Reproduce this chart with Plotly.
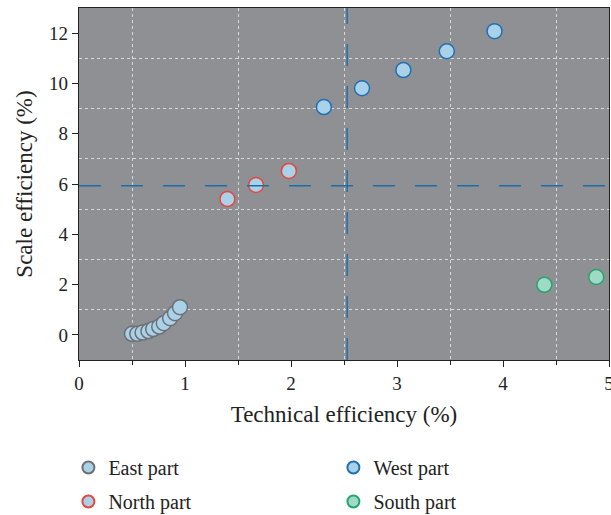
import plotly.graph_objects as go

east_x = [0.50, 0.55, 0.60, 0.655, 0.70, 0.757, 0.80, 0.86, 0.906, 0.953]
east_y = [0.04, 0.04, 0.09, 0.15, 0.23, 0.33, 0.46, 0.66, 0.86, 1.10]
north_x = [1.40, 1.67, 1.98]
north_y = [5.40, 5.96, 6.52]
west_x = [2.31, 2.67, 3.06, 3.47, 3.92]
west_y = [9.06, 9.81, 10.53, 11.28, 12.08]
south_x = [4.39, 4.88]
south_y = [1.99, 2.30]
mean_te = 2.53
mean_se = 5.93

FONT = "Liberation Serif"
fig = go.Figure()

def add(name, xs, ys, fill, border, legend):
    fig.add_trace(go.Scatter(x=xs, y=ys, mode="markers", name=name, cliponaxis=False,
                             legend=legend, legendgroup=name,
                             marker=dict(size=15, color=fill, line=dict(color=border, width=1.5))))

add("East part", east_x, east_y, "#a9d1e8", "#6e6f73", "legend")
add("North part", north_x, north_y, "#a9d1e8", "#e8453c", "legend")
add("West part", west_x, west_y, "#a9d1e8", "#1f6fb5", "legend2")
add("South part", south_x, south_y, "#9fdac6", "#23a56e", "legend2")

fig.add_hline(y=mean_se, line=dict(color="#1a6ea8", width=1.4, dash="22px,20px"))
fig.add_vline(x=mean_te, line=dict(color="#1a6ea8", width=1.4, dash="22px,20px"))

leg = dict(orientation="v", y=-0.25, xanchor="left", yanchor="top",
           font=dict(size=20), itemsizing="constant", tracegroupgap=5,
           bgcolor="rgba(0,0,0,0)")

fig.update_layout(
    width=611, height=515,
    margin=dict(l=79, r=2, t=8, b=155, autoexpand=False),
    plot_bgcolor="#8f9094", paper_bgcolor="white",
    font=dict(family=FONT, size=19, color="#222"),
    showlegend=True,
    legend=dict(leg, x=-0.02),
    legend2=dict(leg, x=0.48),
)
fig.update_xaxes(range=[0, 5], dtick=1, showline=True, linecolor="#222", linewidth=1.2, mirror=True,
                 ticks="outside", ticklen=6, tickcolor="#222", automargin=False,
                 ticklabeloverflow="allow",
                 showgrid=False, zeroline=False,
                 minor=dict(dtick=0.5, tick0=0.5, showgrid=True, gridcolor="#d8d8d8", griddash="dot",
                            gridwidth=1.2, ticks="outside", ticklen=4, tickcolor="#222"),
                 title=dict(text="Technical efficiency (%)", standoff=12))
fig.update_yaxes(range=[-1, 13], tickvals=[0, 2, 4, 6, 8, 10, 12], showline=True, linecolor="#222",
                 linewidth=1.2, mirror=True, ticks="outside", ticklen=6, tickcolor="#222", automargin=False,
                 ticklabeloverflow="allow",
                 showgrid=False, zeroline=False,
                 minor=dict(tickvals=[1, 3, 5, 7, 9, 11], showgrid=True, gridcolor="#d8d8d8", griddash="dot",
                            gridwidth=1.2),
                 title=dict(text="Scale efficiency (%)", standoff=10))
fig.write_html("out.html", config={"displayModeBar": False},
               post_script="document.body.style.margin='0';document.body.style.overflow='hidden';")
